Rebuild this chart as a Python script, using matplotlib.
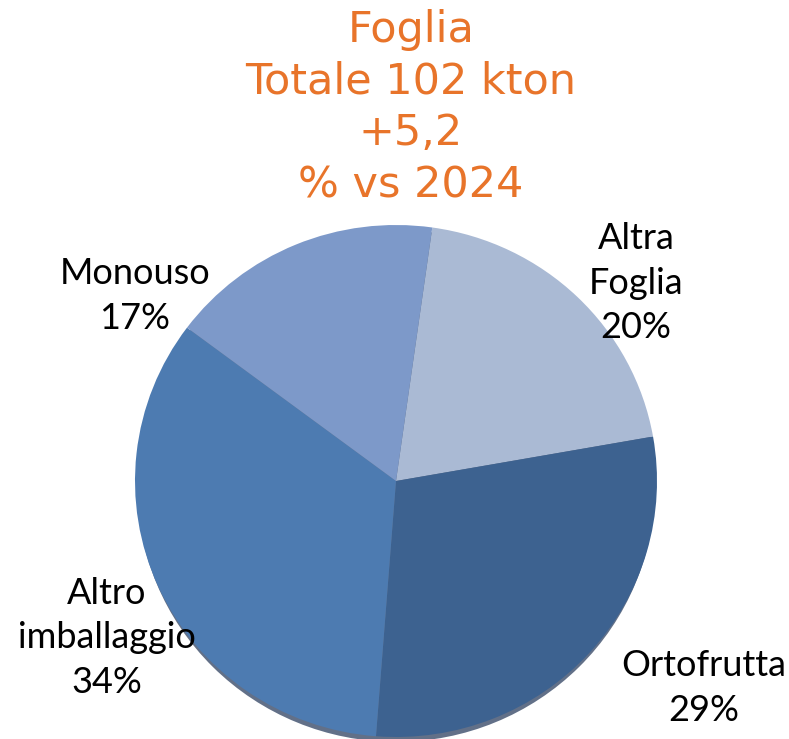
import matplotlib
matplotlib.use("Agg")
import matplotlib.pyplot as plt
from matplotlib.patches import Ellipse

# Data
categories = ["Altra\nFoglia", "Ortofrutta", "Altro\nimballaggio", "Monouso"]
shares = [20, 29, 34, 17]
pct_labels = ["20%", "29%", "34%", "17%"]
title_lines = ["Foglia", "Totale 102 kton", "+5,2", "% vs 2024"]

colors = ["#AABAD4", "#3D6290", "#4D7BB1", "#7D99C9"]

W, H = 789, 739
rx, ry = 261, 256
ys = rx / ry  # vertical squash so the pie is slightly elliptical


def py(ypix):
    return (H - ypix) * ys


fig = plt.figure(figsize=(W / 100, H / 100), dpi=100)
ax = fig.add_axes([0, 0, 1, 1])

cx, cy = 396, py(481)

# subtle shadow at the bottom
ax.add_patch(Ellipse((cx, cy - 5), 2 * rx - 4, 2 * rx, color="#1F3456", alpha=0.7, lw=0, zorder=1))

wedges, _ = ax.pie(shares, colors=colors, startangle=82, counterclock=False,
                   center=(cx, cy), radius=rx, frame=True,
                   wedgeprops=dict(linewidth=0, zorder=2))
ax.set_aspect("auto")
ax.set_xlim(0, W)
ax.set_ylim(0, H * ys)
ax.axis("off")

label_font = dict(family=["Lato", "DejaVu Sans"], fontsize=26, color="black",
                  ha="center", va="center", linespacing=1.42)
label_pos = [(636, 283), (704, 688), (107, 638), (135, 296)]
for cat, pct, (x, y) in zip(categories, pct_labels, label_pos):
    ax.text(x, py(y), cat + "\n" + pct, **label_font)

title_y = [30, 82, 133, 185]
for line, y in zip(title_lines, title_y):
    ax.text(411, py(y), line, family="DejaVu Sans", fontsize=31, color="#E8742A",
            ha="center", va="center")

fig.savefig("out.png", dpi=100)
